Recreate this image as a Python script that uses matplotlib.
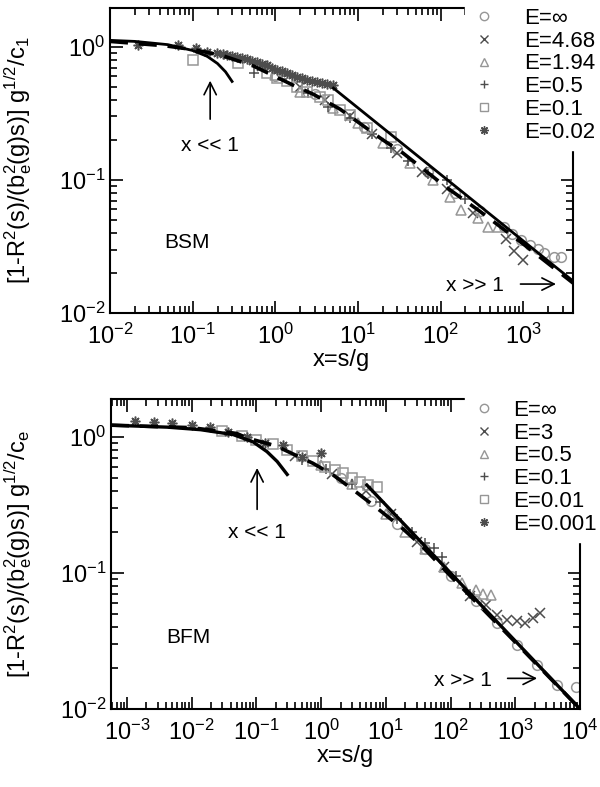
import numpy as np
import matplotlib
matplotlib.use('Agg')
import matplotlib.pyplot as plt
from matplotlib.lines import Line2D
from matplotlib.ticker import LogLocator

plt.rcParams['font.family'] = ['Liberation Sans', 'DejaVu Sans']
plt.rcParams['mathtext.fontset'] = 'custom'
plt.rcParams['mathtext.rm'] = 'Liberation Sans'
plt.rcParams['mathtext.it'] = 'Liberation Sans:italic'
plt.rcParams['mathtext.bf'] = 'Liberation Sans:bold'
plt.rcParams['axes.unicode_minus'] = False
plt.rcParams['font.size'] = 16

LIGHT = '#969696'
DARK = '#4d4d4d'

# ---------------- top panel (BSM) ----------------
bsm_labels = ['E=\u221e', 'E=4.68', 'E=1.94', 'E=0.5', 'E=0.1', 'E=0.02']

bsm_inf_x = [1.0, 3.0, 12, 30, 70, 150, 300, 580, 740, 950, 1200, 1500, 1800, 2350, 2900]
bsm_inf_y = [0.60, 0.44, 0.25, 0.17, 0.115, 0.08, 0.058, 0.044, 0.039, 0.0356, 0.0325, 0.0305, 0.0284, 0.0265, 0.0265]

bsm_468_x = [0.7, 2.0, 4.0, 8, 15, 30, 60, 120, 250, 620, 770, 990]
bsm_468_y = [0.72, 0.50, 0.40, 0.30, 0.22, 0.16, 0.115, 0.085, 0.056, 0.036, 0.029, 0.025]

bsm_194_x = [1.0, 2.0, 5, 10, 20, 43, 82, 130, 175, 280, 375, 490]
bsm_194_y = [0.62, 0.46, 0.35, 0.27, 0.19, 0.134, 0.10, 0.075, 0.059, 0.052, 0.044, 0.044]

bsm_05_x = [0.55, 1.2, 2.5, 4.3, 8, 15, 25, 40, 70, 120, 200]
bsm_05_y = [0.64, 0.57, 0.45, 0.355, 0.29, 0.22, 0.175, 0.14, 0.11, 0.10, 0.072]

bsm_01_x = [0.10, 0.35, 0.8, 1.06, 1.4, 1.85, 2.44, 3.5, 4.3, 6.1, 8.1, 13, 24.8]
bsm_01_y = [0.80, 0.76, 0.64, 0.58, 0.55, 0.50, 0.46, 0.42, 0.40, 0.336, 0.308, 0.246, 0.21]

bsm_002_x = [0.022, 0.067, 0.11, 0.15, 0.198, 0.23, 0.262, 0.30, 0.346, 0.40, 0.458, 0.53, 0.605, 0.70,
             0.80, 0.92, 1.06, 1.22, 1.40, 1.6, 1.85, 2.1, 2.44, 2.8, 3.23, 3.7, 4.27, 5.05]
bsm_002_y = [1.03, 1.03, 0.98, 0.92, 0.90, 0.885, 0.87, 0.855, 0.84, 0.825, 0.81, 0.79, 0.77, 0.75,
             0.73, 0.70, 0.67, 0.655, 0.64, 0.615, 0.595, 0.58, 0.565, 0.555, 0.545, 0.535, 0.53, 0.52]

bsm_small_x = [0.01, 0.02, 0.05, 0.1, 0.15, 0.2, 0.25, 0.3]
bsm_small_y = [1.12, 1.10, 1.04, 0.94, 0.85, 0.75, 0.65, 0.55]

bsm_large_x = [5.05, 4000]
bsm_large_y = [0.49, 0.0174]

bsm_dash_x = [0.01, 0.046, 0.107, 0.23, 0.54, 1.6, 2.9, 6.1, 20, 34.7, 115, 300, 1000, 4000]
bsm_dash_y = [1.10, 1.02, 0.95, 0.86, 0.72, 0.52, 0.44, 0.34, 0.20, 0.16, 0.089, 0.058, 0.033, 0.0168]

# ---------------- bottom panel (BFM) ----------------
bfm_labels = ['E=\u221e', 'E=3', 'E=0.5', 'E=0.1', 'E=0.01', 'E=0.001']

bfm_inf_x = [2, 6, 15, 40, 100, 250, 522, 1070, 2170, 4400, 8700]
bfm_inf_y = [0.50, 0.34, 0.23, 0.15, 0.095, 0.062, 0.043, 0.0297, 0.021, 0.015, 0.0146]

bfm_3_x = [0.4, 1.5, 5, 12, 30, 80, 200, 350, 522, 745, 1070, 1400, 1900, 2450]
bfm_3_y = [0.72, 0.53, 0.40, 0.27, 0.17, 0.11, 0.068, 0.058, 0.049, 0.045, 0.044, 0.043, 0.047, 0.051]

bfm_05_x = [1.0, 3, 10, 20, 40, 80, 150, 250, 320, 420]
bfm_05_y = [0.62, 0.45, 0.27, 0.20, 0.15, 0.11, 0.085, 0.075, 0.07, 0.069]

bfm_01_x = [0.5, 1.2, 3, 8, 15, 25, 40, 55, 75, 120, 200]
bfm_01_y = [0.68, 0.58, 0.45, 0.33, 0.25, 0.20, 0.165, 0.152, 0.13, 0.095, 0.07]

bfm_001_x = [0.03, 0.06, 0.1, 0.18, 0.3, 0.5, 0.75, 1.15, 1.65, 2.19, 3.0, 4.0, 5.3, 7.3]
bfm_001_y = [1.10, 1.02, 0.95, 0.88, 0.80, 0.72, 0.66, 0.60, 0.573, 0.544, 0.50, 0.466, 0.444, 0.43]

bfm_0001_x = [0.00134, 0.0026, 0.005, 0.01, 0.019, 0.037, 0.072, 0.137, 0.26, 0.5, 1.0]
bfm_0001_y = [1.31, 1.29, 1.27, 1.22, 1.18, 1.09, 1.0, 0.90, 0.87, 0.71, 0.76]

bfm_small_x = [0.00057, 0.0042, 0.0138, 0.044, 0.089, 0.146, 0.21, 0.30]
bfm_small_y = [1.22, 1.18, 1.13, 1.04, 0.92, 0.78, 0.66, 0.53]

bfm_large_x = [5.1, 10000]
bfm_large_y = [0.443, 0.0100]

bfm_dash_x = [0.00057, 0.01, 0.05, 0.073, 0.2, 0.47, 0.75, 1.53, 3.47, 7.3, 17.8, 35, 100, 1000, 10000]
bfm_dash_y = [1.22, 1.17, 1.06, 0.98, 0.86, 0.71, 0.64, 0.526, 0.394, 0.30, 0.214, 0.16, 0.095, 0.031, 0.0100]

marker_styles = [
    dict(marker='o', color=LIGHT),
    dict(marker='x', color=DARK),
    dict(marker='^', color=LIGHT),
    dict(marker='+', color=DARK),
    dict(marker='s', color=LIGHT),
    dict(marker=(8, 2, 0), color=DARK),
]

fig = plt.figure(figsize=(6.0, 7.87), dpi=100)
ax1 = fig.add_axes([0.1833, 0.6023, 0.955 - 0.1833, 0.9898 - 0.6023])
ax2 = fig.add_axes([0.185, 0.0991, 0.9667 - 0.185, 0.493 - 0.0991])


def draw_points(ax, xs, ys, style):
    ax.plot(xs, ys, linestyle='none', marker=style['marker'], ms=7,
            mfc='none', mec=style['color'], mew=1.1)


def style_axes(ax, xlim, ylim, sub):
    ax.set_xscale('log')
    ax.set_yscale('log')
    ax.xaxis.set_major_locator(LogLocator(base=10, numticks=30))
    ax.xaxis.set_minor_locator(LogLocator(base=10, subs=np.arange(2, 10), numticks=30))
    ax.set_xlim(*xlim)
    ax.set_ylim(*ylim)
    # keep only the decades inside the view, so no hidden labels hang outside
    xt = [t for t in ax.get_xticks() if xlim[0] * 0.999 <= t <= xlim[1] * 1.001]
    yt = [t for t in ax.get_yticks() if ylim[0] * 0.999 <= t <= ylim[1] * 1.001]
    ax.set_xticks(xt)
    ax.set_yticks(yt)
    ax.set_xlim(*xlim)
    ax.set_ylim(*ylim)
    for sp in ax.spines.values():
        sp.set_linewidth(1.5)
    ax.tick_params(which='both', direction='in', top=True, right=True, width=1.2,
                   labelsize=17)
    ax.tick_params(which='major', length=9)
    ax.tick_params(which='minor', length=5)
    ax.tick_params(axis='x', pad=8)
    ax.set_xlabel('x=s/g', fontsize=17, labelpad=0)
    ax.set_ylabel(r'[1-R$^{2}$(s)/(b$_{\rm e}^{2}$(g)s)] g$^{1/2}$/c$_{\rm %s}$' % sub,
                  fontsize=17)
    ax.yaxis.set_label_coords(-0.165, 0.5)


# top panel
bsm_x = [bsm_inf_x, bsm_468_x, bsm_194_x, bsm_05_x, bsm_01_x, bsm_002_x]
bsm_y = [bsm_inf_y, bsm_468_y, bsm_194_y, bsm_05_y, bsm_01_y, bsm_002_y]
for xs, ys, st in zip(bsm_x, bsm_y, marker_styles):
    draw_points(ax1, xs, ys, st)
ax1.plot(bsm_small_x, bsm_small_y, color='k', lw=2)
ax1.plot(bsm_large_x, bsm_large_y, color='k', lw=2)
ax1.plot(bsm_dash_x, bsm_dash_y, color='k', lw=2.6, dashes=(5, 3))
style_axes(ax1, (0.01, 4000), (0.01, 1.96), '1')
ax1.annotate('', xy=(0.163, 0.585), xytext=(0.163, 0.273),
             arrowprops=dict(arrowstyle='->', color='k', lw=1.2, mutation_scale=22))
ax1.text(0.163, 0.183, 'x << 1', ha='center', va='center', fontsize=15)
ax1.annotate('', xy=(2690, 0.0165), xytext=(857, 0.0165),
             arrowprops=dict(arrowstyle='->', color='k', lw=1.2, mutation_scale=22))
ax1.text(580, 0.0162, 'x >> 1', ha='right', va='center', fontsize=15)
ax1.text(0.086, 0.0336, 'BSM', ha='center', va='center', fontsize=15)

# bottom panel
bfm_x = [bfm_inf_x, bfm_3_x, bfm_05_x, bfm_01_x, bfm_001_x, bfm_0001_x]
bfm_y = [bfm_inf_y, bfm_3_y, bfm_05_y, bfm_01_y, bfm_001_y, bfm_0001_y]
for xs, ys, st in zip(bfm_x, bfm_y, marker_styles):
    draw_points(ax2, xs, ys, st)
ax2.plot(bfm_small_x, bfm_small_y, color='k', lw=2.4)
ax2.plot(bfm_large_x, bfm_large_y, color='k', lw=2.4)
ax2.plot(bfm_dash_x, bfm_dash_y, color='k', lw=2.6, dashes=(5, 3))
style_axes(ax2, (0.00057, 10000), (0.01, 1.90), 'e')
ax2.annotate('', xy=(0.103, 0.62), xytext=(0.103, 0.28),
             arrowprops=dict(arrowstyle='->', color='k', lw=1.2, mutation_scale=22))
ax2.text(0.103, 0.20, 'x << 1', ha='center', va='center', fontsize=15)
ax2.annotate('', xy=(2400, 0.0168), xytext=(690, 0.0168),
             arrowprops=dict(arrowstyle='->', color='k', lw=1.2, mutation_scale=22))
ax2.text(437, 0.0163, 'x >> 1', ha='right', va='center', fontsize=15)
ax2.text(0.0088, 0.0338, 'BFM', ha='center', va='center', fontsize=15)


def make_legend(labels, top_px, textpad):
    handles = [Line2D([], [], linestyle='none', marker=st['marker'], ms=6,
                      mfc='none', mec=st['color'], mew=1.0) for st in marker_styles]
    leg = fig.legend(handles, labels, loc='upper left',
                     bbox_to_anchor=(465 / 600.0, 1 - top_px / 787.0),
                     frameon=True, facecolor='white', edgecolor='white', framealpha=1,
                     fancybox=False, fontsize=16, handlelength=1.0, handletextpad=textpad,
                     labelspacing=0.08, borderpad=0.35, borderaxespad=0.0)
    leg.set_zorder(10)
    return leg


make_legend(bsm_labels, 0, 1.3)
make_legend(bfm_labels, 392, 0.8)

fig.savefig('out.png', dpi=100)
